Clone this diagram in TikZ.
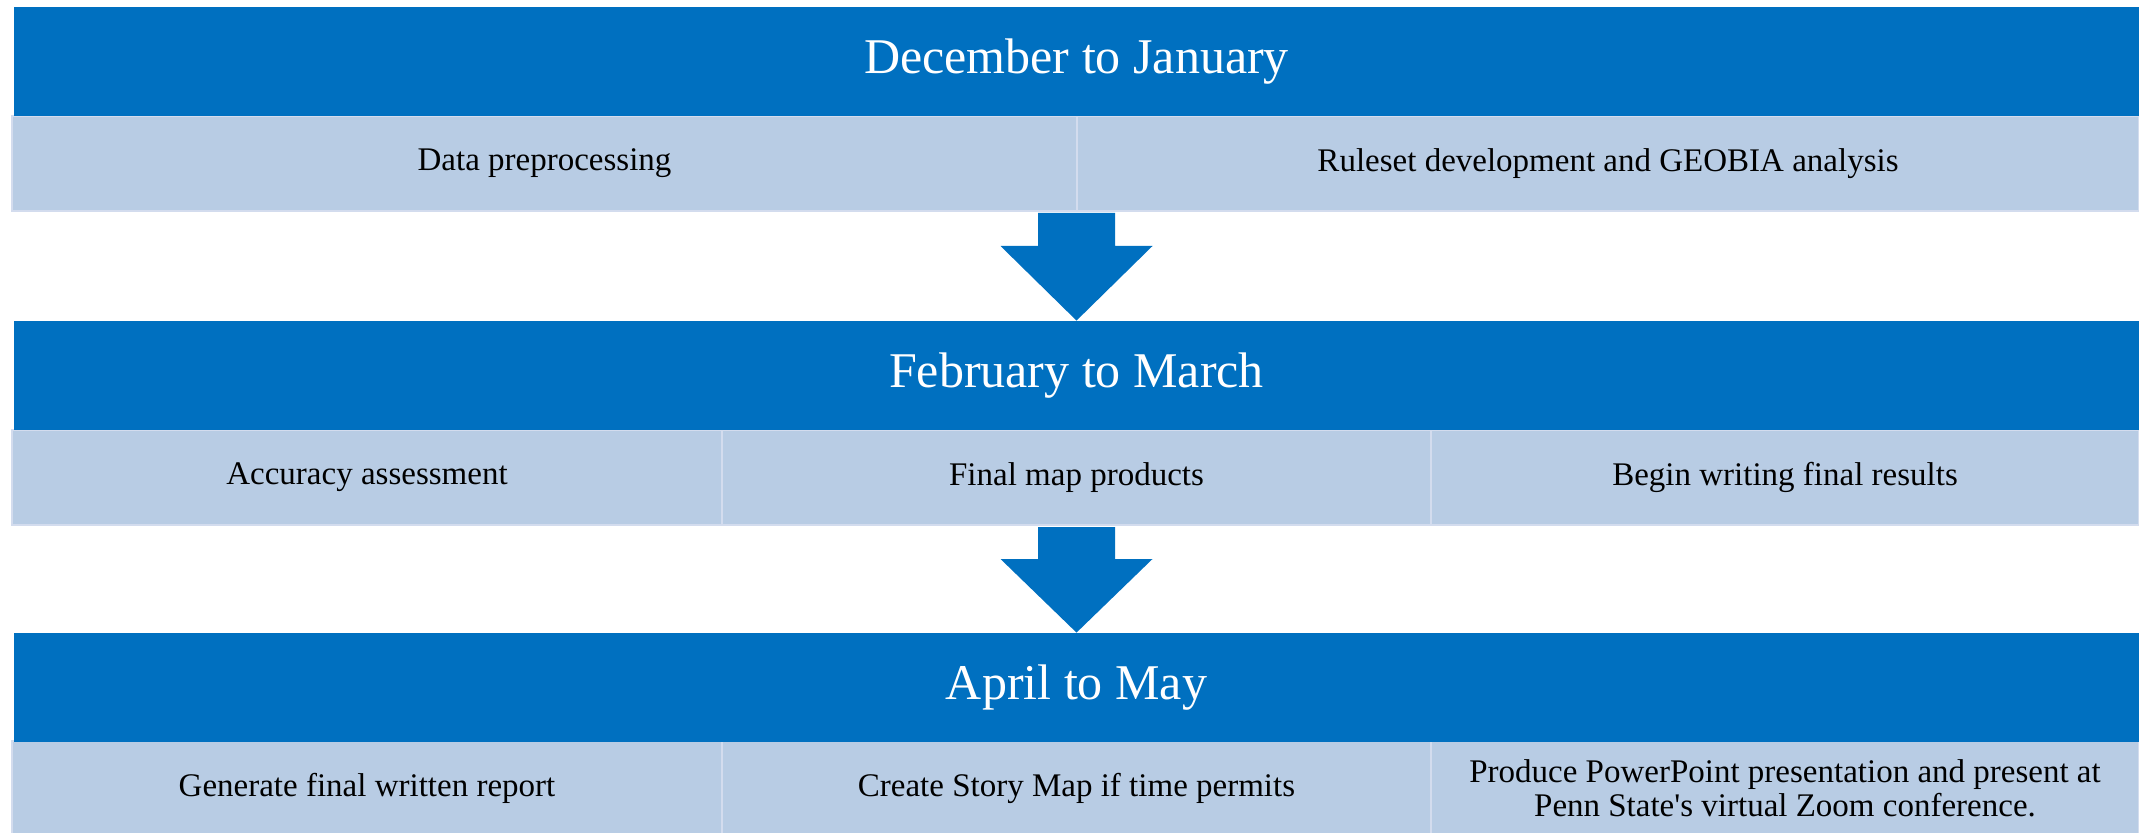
\documentclass[tikz,border=0pt]{standalone}
\usepackage{fontspec}
\setmainfont{Liberation Serif}
\usetikzlibrary{calc}
\definecolor{hblue}{HTML}{0070C0}
\definecolor{lightcell}{HTML}{B8CCE4}
\definecolor{cellrule}{HTML}{D3DCEE}
\tikzset{
  hdr/.style={fill=hblue, text=white, inner sep=0pt, minimum height=54.5pt,
    font=\fontsize{25pt}{30pt}\selectfont},
  cell/.style={fill=lightcell, draw=cellrule, line width=1pt, text=black,
    inner sep=0pt, minimum height=47.5pt, align=center,
    font=\fontsize{16.5pt}{17pt}\selectfont},
  blockarrow/.style={fill=hblue}
}
\begin{document}
\begin{tikzpicture}[x=0.5pt,y=-0.5pt]
\useasboundingbox (0,0) rectangle (2139,833);
\clip (0,0) rectangle (2139,833);

% task rows (drawn first so the headers cover their top rules)
\node[cell, minimum width=532.5pt] (c11) at (544.5,163.5) {Data preprocessing};
\node[cell, minimum width=531pt]   (c12) at (1608,163.5) {Ruleset development and GEOBIA analysis};

\node[cell, minimum width=355pt]   (c21) at (367,477.5) {Accuracy assessment};
\node[cell, minimum width=354.5pt] (c22) at (1076.5,477.5) {Final map products};
\node[cell, minimum width=354pt]   (c23) at (1785,477.5) {Begin writing final results};

\node[cell, minimum width=355pt]   (c31) at (367,788.5) {Generate final written report};
\node[cell, minimum width=354.5pt] (c32) at (1076.5,788.5) {Create Story Map if time permits};
\node[cell, minimum width=354pt]   (c33) at (1785,788.5)
  {Produce PowerPoint presentation and present at\\Penn State\textquotesingle s virtual Zoom conference.};

% period headers
\node[hdr, minimum width=1062.5pt] (h1) at (1076.5,61.5) {December to January};
\node[hdr, minimum width=1062.5pt] (h2) at (1076.5,375.5) {February to March};
\node[hdr, minimum width=1062.5pt] (h3) at (1076.5,687.5) {April to May};

% block arrows between periods
\coordinate (a1top) at (h1.center |- c11.south);
\coordinate (a1tip) at (h1.center |- h2.north);
\fill[blockarrow] ($(a1top)+(-38.5,1)$) -- ($(a1top)+(38.5,1)$) -- ($(a1top)+(38.5,34)$)
  -- ($(a1top)+(76,34)$) -- (a1tip) -- ($(a1top)+(-76,34)$) -- ($(a1top)+(-38.5,34)$) -- cycle;

\coordinate (a2top) at (h2.center |- c22.south);
\coordinate (a2tip) at (h2.center |- h3.north);
\fill[blockarrow] ($(a2top)+(-38.5,1)$) -- ($(a2top)+(38.5,1)$) -- ($(a2top)+(38.5,33)$)
  -- ($(a2top)+(76,33)$) -- (a2tip) -- ($(a2top)+(-76,33)$) -- ($(a2top)+(-38.5,33)$) -- cycle;
\end{tikzpicture}
\end{document}
